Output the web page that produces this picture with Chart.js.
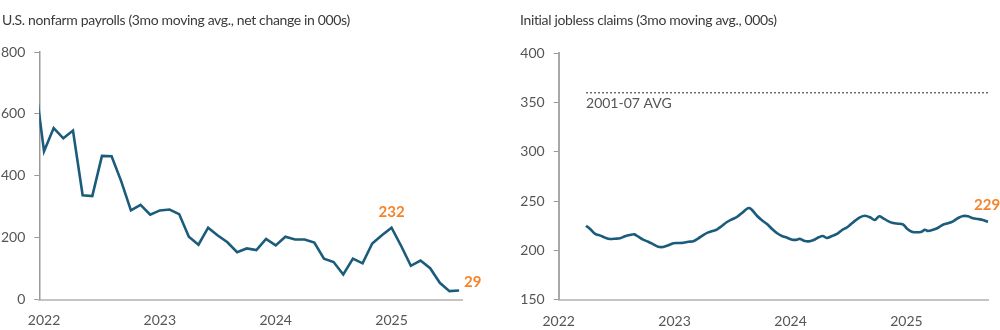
<!DOCTYPE html>
<html lang="en">
<head>
  <meta charset="UTF-8">
  <title>Payrolls and jobless claims</title>
  <script src="https://cdn.jsdelivr.net/npm/chart.js"></script>
  <style>
    body {
      margin: 0;
      background: #ffffff;
      font-family: Lato, "Open Sans", sans-serif;
    }
    #wrap {
      position: relative;
      width: 1000px;
      height: 330px;
      overflow: hidden;
    }
    .panel {
      position: absolute;
      top: 0;
      width: 500px;
      height: 330px;
    }
    .panel canvas {
      position: absolute;
      left: 0;
      top: 0;
    }
    .title {
      position: absolute;
      top: 11px;
      font-size: 14px;
      letter-spacing: -0.35px;
      color: #3a3a3a;
      white-space: nowrap;
      z-index: 2;
    }
  </style>
</head>
<body>

<div id="wrap">
  <div class="panel" style="left:0">
    <div class="title" style="left:2px">U.S. nonfarm payrolls (3mo moving avg., net change in 000s)</div>
    <canvas id="payrolls" width="500" height="330"></canvas>
  </div>
  <div class="panel" style="left:500px">
    <div class="title" style="left:20px">Initial jobless claims (3mo moving avg., 000s)</div>
    <canvas id="claims" width="500" height="330"></canvas>
  </div>
</div>

<script>
// Nonfarm payrolls, 3-month moving average of the monthly net change (000s), from Dec 2021
const payrollStart = '2021-12';
const payrollValues = [
  720, 479, 554, 521, 546, 337, 334, 464, 463, 382, 288, 306,
  274, 288, 291, 276, 203, 177, 232, 207, 185, 153, 165, 160,
  196, 175, 203, 194, 194, 184, 132, 121, 81, 132, 117, 181,
  208, 232, 173, 109, 126, 101, 54, 27, 29
];
const payrollYears = [2022, 2023, 2024, 2025];

// Initial jobless claims, 3-month moving average (000s)
const claimsDates = [
  '2022-03-28', '2022-04-11', '2022-04-26', '2022-05-12', '2022-05-27', '2022-06-12',
  '2022-06-28', '2022-07-13', '2022-07-29', '2022-08-13', '2022-08-27', '2022-09-09',
  '2022-09-24', '2022-10-10', '2022-10-26', '2022-11-10', '2022-11-26', '2022-12-12',
  '2022-12-28', '2023-01-13', '2023-01-29', '2023-02-13', '2023-03-01', '2023-03-17',
  '2023-04-01', '2023-04-17', '2023-05-03', '2023-05-14', '2023-05-30', '2023-06-15',
  '2023-07-01', '2023-07-16', '2023-08-01', '2023-08-17', '2023-08-24', '2023-09-02',
  '2023-09-18', '2023-10-03', '2023-10-19', '2023-11-04', '2023-11-20', '2023-12-05',
  '2023-12-21', '2024-01-06', '2024-01-22', '2024-01-29', '2024-02-12', '2024-02-27',
  '2024-03-14', '2024-03-30', '2024-04-12', '2024-04-25', '2024-05-11', '2024-05-27',
  '2024-06-12', '2024-06-28', '2024-07-13', '2024-07-23', '2024-08-07', '2024-08-23',
  '2024-09-08', '2024-09-23', '2024-10-07', '2024-10-20', '2024-11-04', '2024-11-20',
  '2024-12-05', '2024-12-21', '2025-01-04', '2025-01-18', '2025-02-03', '2025-02-18',
  '2025-02-28', '2025-03-10', '2025-03-26', '2025-04-11', '2025-04-26', '2025-05-12',
  '2025-05-28', '2025-06-13', '2025-06-29', '2025-07-14', '2025-07-30', '2025-08-14',
  '2025-08-30', '2025-09-15'
];
const claimsValues = [
  225.1, 221.4, 216.7, 215.0, 213.0, 211.6,
  211.9, 212.3, 214.3, 215.6, 216.3, 213.9,
  210.9, 208.8, 206.2, 203.8, 203.5, 205.2,
  207.2, 207.5, 207.8, 208.8, 209.2, 212.3,
  215.6, 218.3, 220.0, 221.2, 224.8, 228.8,
  231.6, 233.9, 238.0, 242.3, 243.0, 241.0,
  234.9, 230.6, 226.8, 221.7, 217.4, 214.6,
  212.9, 210.9, 210.9, 211.9, 209.9, 209.2,
  210.6, 213.3, 214.6, 212.6, 214.6, 216.7,
  220.7, 223.5, 227.5, 230.2, 233.6, 235.2,
  233.6, 230.9, 234.6, 232.6, 229.8, 227.8,
  227.1, 226.5, 221.7, 219.0, 218.4, 219.0,
  221.0, 219.7, 221.0, 223.0, 226.1, 227.5,
  229.5, 232.9, 234.9, 234.6, 232.6, 231.9,
  230.9, 229.0
];
const claimsAvg2001to07 = 360;
const claimsAvgLabel = '2001-07 AVG';
const claimsYears = [2022, 2023, 2024, 2025];

const LINE = '#1b5b7b';
const ORANGE = '#f5832a';
const TICK_TEXT = '#555555';

Chart.defaults.font.family = 'Lato, "Open Sans", sans-serif';
Chart.defaults.color = TICK_TEXT;

// months counted from Jan 2022
function monthIndex(ym) {
  const [y, m] = ym.split('-').map(Number);
  return (y - 2022) * 12 + (m - 1);
}
function yearFrac(iso) {
  const d = new Date(iso + 'T00:00:00Z');
  const y = d.getUTCFullYear();
  const start = Date.UTC(y, 0, 1);
  const end = Date.UTC(y + 1, 0, 1);
  return y + (d - start) / (end - start);
}

const payrollPoints = payrollValues.map((v, i) => ({ x: monthIndex(payrollStart) + i, y: v }));
const claimsPoints = claimsDates.map((d, i) => ({ x: yearFrac(d), y: claimsValues[i] }));
const avgPoints = [
  { x: claimsPoints[0].x, y: claimsAvg2001to07 },
  { x: claimsPoints[claimsPoints.length - 1].x, y: claimsAvg2001to07 }
];

// the 2025 peak of the payroll series
const lastYearStart = payrollValues.length - 12;
const payrollPeakIdx = lastYearStart + payrollValues.slice(lastYearStart).indexOf(Math.max(...payrollValues.slice(lastYearStart)));

// value labels and the reference-line caption
const callouts = {
  id: 'callouts',
  afterDatasetsDraw(chart, args, opts) {
    const ctx = chart.ctx;
    (opts.items || []).forEach(it => {
      const pt = chart.getDatasetMeta(it.dataset).data[it.index];
      const raw = chart.data.datasets[it.dataset].data[it.index].y;
      ctx.save();
      ctx.font = it.font || 'bold 15px Lato, sans-serif';
      ctx.fillStyle = it.color || ORANGE;
      ctx.textAlign = it.align || 'center';
      ctx.textBaseline = 'middle';
      ctx.fillText(it.text || String(Math.round(raw)), pt.x + (it.dx || 0), pt.y + (it.dy || 0));
      ctx.restore();
    });
  }
};

function fixWidth(w) {
  return scale => { scale.width = w; };
}
function fixHeight(h) {
  return scale => { scale.height = h; };
}

// left panel: payrolls
new Chart(document.getElementById('payrolls'), {
  type: 'line',
  data: {
    datasets: [{
      data: payrollPoints,
      borderColor: LINE,
      borderWidth: 2.6,
      pointRadius: 0,
      tension: 0,
      fill: false
    }]
  },
  options: {
    responsive: false,
    animation: false,
    layout: { padding: { top: 52, right: 38, bottom: 0, left: 0 } },
    plugins: {
      legend: { display: false },
      tooltip: { enabled: false },
      callouts: {
        items: [
          { dataset: 0, index: payrollPeakIdx, dy: -16 },
          { dataset: 0, index: payrollValues.length - 1, dx: 5, dy: -8, align: 'left' }
        ]
      }
    },
    scales: {
      x: {
        type: 'linear',
        min: -0.49,
        max: 43.3,
        afterFit: fixHeight(30.5),
        afterBuildTicks: s => { s.ticks = payrollYears.map(y => ({ value: (y - 2022) * 12 })); },
        ticks: {
          padding: 5,
          maxRotation: 0,
          font: { size: 14 },
          callback: v => String(2022 + v / 12)
        },
        grid: { display: false },
        border: { display: true, color: '#c4c4c4', width: 2 }
      },
      y: {
        min: 0,
        max: 800,
        afterFit: fixWidth(39.3),
        ticks: { stepSize: 200, padding: 9, font: { size: 14 } },
        grid: { drawOnChartArea: false, tickLength: 5, color: '#9a9a9a', lineWidth: 1 },
        border: { display: true, color: '#9a9a9a', width: 1.5 }
      }
    }
  },
  plugins: [callouts]
});

// right panel: jobless claims
new Chart(document.getElementById('claims'), {
  type: 'line',
  data: {
    datasets: [{
      data: claimsPoints,
      borderColor: LINE,
      borderWidth: 2.6,
      pointRadius: 0,
      tension: 0.3,
      fill: false
    }, {
      data: avgPoints,
      borderColor: '#6f6f6f',
      borderWidth: 1.5,
      borderDash: [2, 2],
      pointRadius: 0,
      fill: false
    }]
  },
  options: {
    responsive: false,
    animation: false,
    layout: { padding: { top: 53.3, right: 11.3, bottom: 0, left: 0 } },
    plugins: {
      legend: { display: false },
      tooltip: { enabled: false },
      callouts: {
        items: [
          { dataset: 0, index: claimsValues.length - 1, dx: -14, dy: -17, align: 'left' },
          { dataset: 1, index: 0, dy: 11, align: 'left', text: claimsAvgLabel,
            font: '14px Lato, sans-serif', color: '#555555' }
        ]
      }
    },
    scales: {
      x: {
        type: 'linear',
        min: 2022,
        max: 2025.71,
        afterFit: fixHeight(30.3),
        afterBuildTicks: s => { s.ticks = claimsYears.map(y => ({ value: y })); },
        ticks: {
          padding: 5,
          maxRotation: 0,
          font: { size: 14 },
          callback: v => String(v)
        },
        grid: { display: false },
        border: { display: true, color: '#c4c4c4', width: 2 }
      },
      y: {
        min: 150,
        max: 400,
        afterFit: fixWidth(58.7),
        ticks: { stepSize: 50, padding: 9, font: { size: 14 } },
        grid: { drawOnChartArea: false, tickLength: 5, color: '#9a9a9a', lineWidth: 1 },
        border: { display: true, color: '#a8a8a8', width: 2 }
      }
    }
  },
  plugins: [callouts]
});
</script>

</body>
</html>
